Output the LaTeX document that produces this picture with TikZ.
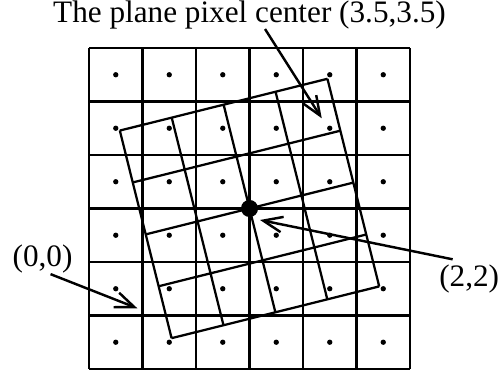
\documentclass[tikz,border=0pt]{standalone}
\usepackage{fontspec}
\setmainfont{Liberation Serif}
\usetikzlibrary{arrows.meta}
\begin{document}
\begin{tikzpicture}[line width=1.2pt,
  every node/.style={font=\fontsize{16.6}{20}\selectfont, inner sep=0pt},
  pointer/.style={-{Straight Barb[length=3.6mm,width=2.9mm]}, line width=1.3pt}]
  \useasboundingbox (-1.664,-0.168) rectangle (7.682,6.897);

  % pixel grid with pixel centers
  \draw (0,0) grid (6,6);
  \foreach \i in {0,...,5}
    \foreach \j in {0,...,5}
      \fill (\i+0.5,\j+0.5) circle (0.05);

  % rotated plane grid
  \begin{scope}[shift={(3,3)}, rotate=14]
    \draw (-2,-2) grid (2,2);
  \end{scope}
  \node[circle, fill, minimum size=0.32cm] (ctr) at (3,3) {};

  \coordinate (tipA) at (4.35,4.686);
  \coordinate (tipB) at (0.903,1.135);
  \coordinate (tipC) at (3.196,2.785);

  \node[anchor=base] (title) at (3,6.47) {The plane pixel center (3.5,3.5)};
  \node[anchor=base] (orig) at (-0.869,1.918) {(0,0)};
  \node[anchor=base] (mid) at (7.107,1.544) {(2,2)};

  \draw[pointer] ([xshift=0.29cm,yshift=0.03cm]title.south) -- (tipA);
  \draw[pointer] ([xshift=0.15cm]orig.south) -- (tipB);
  \draw[pointer] ([xshift=-0.31cm,yshift=0.08cm]mid.north) -- (tipC);
\end{tikzpicture}
\end{document}
